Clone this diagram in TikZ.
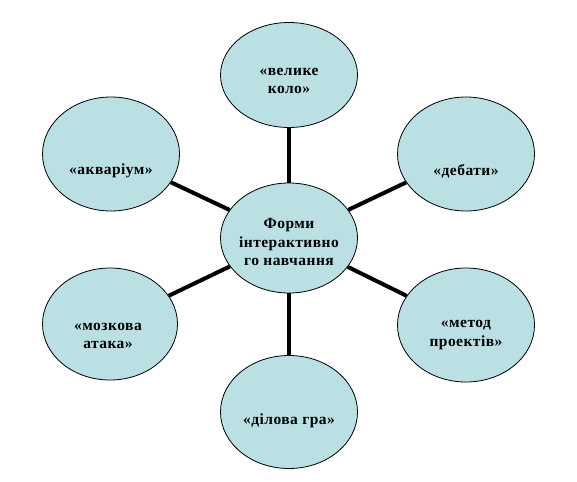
\documentclass[tikz,border=0pt]{standalone}
\usepackage{fontspec}
\setmainfont{Liberation Serif}
\newfontfamily\lblfont[LetterSpace=3]{Liberation Serif}
\usetikzlibrary{shapes.geometric}
\definecolor{bubblefill}{RGB}{186,224,228}
\tikzset{
  bubble/.style={ellipse, draw=black, line width=0.8pt, fill=bubblefill, inner sep=0pt},
  lbl/.style={align=center, font=\lblfont\bfseries\fontsize{15.5}{18.5}\selectfont, inner sep=0pt},
  link/.style={line width=4pt, black}
}
\begin{document}
\begin{tikzpicture}[x=1pt,y=-1pt]
\useasboundingbox (0,0) rectangle (577,481);
% bubbles
\node[bubble, minimum width=137pt, minimum height=105pt] (top) at (289,75) {};
\node[bubble, minimum width=137pt, minimum height=114pt] (tr) at (466,154) {};
\node[bubble, minimum width=137pt, minimum height=114pt] (tl) at (111,154) {};
\node[bubble, minimum width=137pt, minimum height=110pt] (c) at (289,238) {};
\node[bubble, minimum width=135pt, minimum height=112pt] (bl) at (110,324) {};
\node[bubble, minimum width=137pt, minimum height=114pt] (br) at (466,325) {};
\node[bubble, minimum width=137pt, minimum height=113pt] (b) at (289,412) {};
% links
\draw[link] (c) -- (top);
\draw[link] (c) -- (tr);
\draw[link] (c) -- (tl);
\draw[link] (c) -- (bl);
\draw[link] (c) -- (br);
\draw[link] (c) -- (b);
% labels
\node[lbl] (ttop) at (289,81) {«велике\\коло»};
\node[lbl] (ttr) at (466,171) {«дебати»};
\node[lbl] (ttl) at (111,171) {«акваріум»};
\node[lbl] (tc) at (289,242) {Форми\\інтерактивно\\го навчання};
\node[lbl] (tbl) at (108,336) {«мозкова\\атака»};
\node[lbl] (tbr) at (466,335) {«метод\\проектів»};
\node[lbl] (tb) at (289,421) {«ділова гра»};
\end{tikzpicture}
\end{document}
